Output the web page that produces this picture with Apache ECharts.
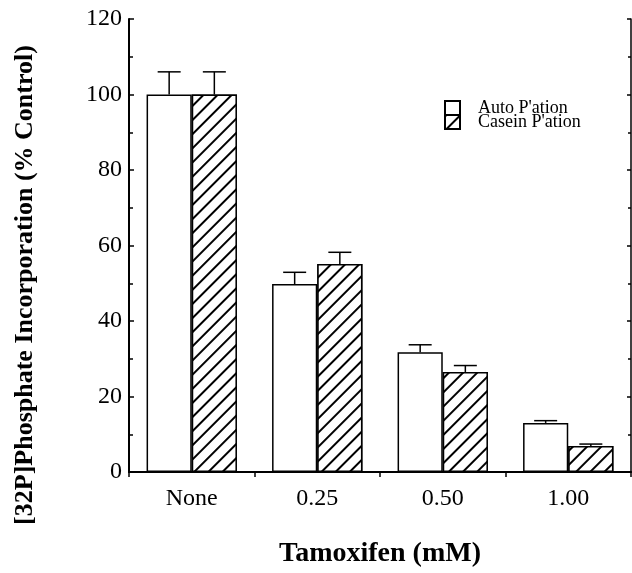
<!DOCTYPE html>
<html>
<head>
<meta charset="utf-8">
<script src="https://cdn.jsdelivr.net/npm/echarts@6/dist/echarts.min.js"></script>
<style>
  html, body { margin: 0; padding: 0; background: #fff; }
  #chart { width: 632px; height: 573px; }
</style>
</head>
<body>
<div id="chart"></div>
<script>
const categories = ['None', '0.25', '0.50', '1.00'];
const autoValues = [100, 49.8, 31.7, 13.0];
const autoErrors = [6, 3.1, 2.0, 0.6];
const caseinValues = [100, 55.1, 26.5, 6.9];
const caseinErrors = [6, 3.1, 1.7, 0.5];
const yTicks = { min: 0, max: 120, interval: 20 };

const FONT = '"Liberation Serif", "DejaVu Serif", serif';
const BAR_WIDTH = 0.36;

const hatch = {
  symbol: 'rect',
  symbolSize: 1,
  dashArrayX: [1, 0],
  dashArrayY: [1.2, 8],
  rotation: -Math.PI / 4,
  color: '#000',
  backgroundColor: '#fff',
};

// error bar whiskers, drawn over each bar
const errorSeries = (values, errors, side) => ({
  type: 'custom',
  silent: true,
  z: 5,
  data: values.map((v, i) => [i, v, v + errors[i]]),
  encode: { x: 0, y: [1, 2] },
  renderItem: (params, api) => {
    const base = api.coord([api.value(0), api.value(1)]);
    const top = api.coord([api.value(0), api.value(2)]);
    const band = api.size([1, 0])[0];
    const cx = base[0] + side * band * BAR_WIDTH / 2;
    const half = 11.5;
    const style = { stroke: '#000', lineWidth: 1.5 };
    return {
      type: 'group',
      children: [
        { type: 'line', shape: { x1: cx, y1: base[1], x2: cx, y2: top[1] }, style },
        { type: 'line', shape: { x1: cx - half, y1: top[1], x2: cx + half, y2: top[1] }, style },
      ],
    };
  },
});

const chart = echarts.init(document.getElementById('chart'), null, { renderer: 'canvas' });

chart.setOption({
  animation: false,
  backgroundColor: '#fff',
  textStyle: { fontFamily: FONT, color: '#000' },
  grid: { left: 129, right: 1, top: 19, bottom: 95 },
  legend: {
    orient: 'vertical',
    left: 444,
    top: 99,
    itemWidth: 15,
    itemHeight: 14,
    itemGap: -4,
    padding: 0,
    icon: 'rect',
    selectedMode: false,
    textStyle: { fontFamily: FONT, fontSize: 18, lineHeight: 14, color: '#000', padding: [0, 0, 0, 13] },
    data: ['Auto P\'ation', 'Casein P\'ation'],
  },
  xAxis: [
    {
      type: 'category',
      data: categories,
      axisLine: { lineStyle: { color: '#000', width: 2 } },
      axisTick: { show: true, inside: false, length: 5, lineStyle: { color: '#000', width: 1.5 } },
      axisLabel: { fontFamily: FONT, fontSize: 24, color: '#000', margin: 15 },
      splitLine: { show: false },
      name: 'Tamoxifen (mM)',
      nameLocation: 'middle',
      nameGap: 68,
      nameTextStyle: { fontFamily: FONT, fontSize: 28, fontWeight: 'bold', color: '#000' },
    },
    {
      type: 'category',
      position: 'top',
      data: categories,
      axisLine: { lineStyle: { color: '#000', width: 1.5 } },
      axisTick: { show: false },
      axisLabel: { show: false },
    },
  ],
  yAxis: [
    {
      type: 'value',
      min: yTicks.min,
      max: yTicks.max,
      interval: yTicks.interval,
      axisLine: { show: true, lineStyle: { color: '#000', width: 2 } },
      axisTick: { show: true, inside: true, length: 5, lineStyle: { color: '#000', width: 1.5 } },
      minorTick: { show: true, splitNumber: 2, length: 4, lineStyle: { color: '#000', width: 1.5 } },
      axisLabel: { fontFamily: FONT, fontSize: 24, color: '#000', margin: 7 },
      splitLine: { show: false },
    },
    {
      type: 'value',
      position: 'right',
      min: yTicks.min,
      max: yTicks.max,
      interval: yTicks.interval,
      axisLine: { show: true, lineStyle: { color: '#000', width: 1.5 } },
      axisTick: { show: true, inside: true, length: 4, lineStyle: { color: '#000', width: 1.5 } },
      minorTick: { show: true, splitNumber: 2, length: 3, lineStyle: { color: '#000', width: 1.5 } },
      axisLabel: { show: false },
      splitLine: { show: false },
    },
  ],
  graphic: [
    {
      type: 'text',
      x: 25,
      y: 285,
      rotation: Math.PI / 2,
      style: {
        text: '[32P]Phosphate Incorporation (% Control)',
        font: 'bold 26px ' + FONT,
        fill: '#000',
        align: 'center',
        verticalAlign: 'middle',
      },
    },
  ],
  series: [
    {
      name: 'Auto P\'ation',
      type: 'bar',
      data: autoValues,
      barWidth: (BAR_WIDTH * 100) + '%',
      barGap: '0%',
      itemStyle: { color: '#fff', borderColor: '#000', borderWidth: 1.5 },
    },
    {
      name: 'Casein P\'ation',
      type: 'bar',
      data: caseinValues,
      barWidth: (BAR_WIDTH * 100) + '%',
      barGap: '0%',
      itemStyle: { color: '#fff', borderColor: '#000', borderWidth: 1.5, decal: hatch },
    },
    errorSeries(autoValues, autoErrors, -1),
    errorSeries(caseinValues, caseinErrors, 1),
  ],
});
</script>
</body>
</html>
